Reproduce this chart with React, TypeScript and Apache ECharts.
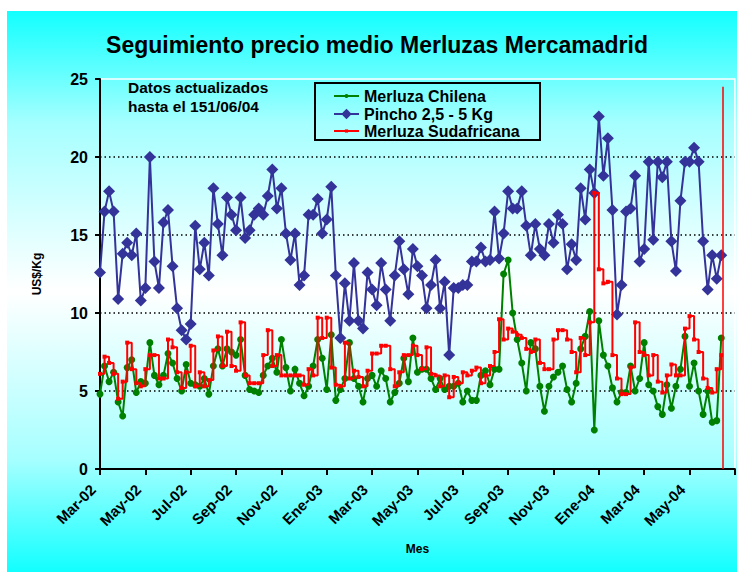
import React, { useEffect, useRef } from "react";
import * as echarts from "echarts";

const FONT = "'Liberation Sans', Arial, Helvetica, sans-serif";

// sampling step of the series (months after Mar-02)
const STEP_MONTHS = 0.2;

const tickLabels = [
  "Mar-02", "May-02", "Jul-02", "Sep-02", "Nov-02", "Ene-03", "Mar-03",
  "May-03", "Jul-03", "Sep-03", "Nov-03", "Ene-04", "Mar-04", "May-04", "",
];

const chilena = [
  4.8, 6.6, 5.6, 6.2, 4.3, 3.4, 6.5, 7.0, 4.9, 5.6, 5.5, 8.1, 6.0, 5.4, 6.0, 7.4, 6.8, 5.8, 5.0, 6.7, 5.5, 5.4, 5.3, 5.8,
  4.8, 6.6, 7.7, 6.6, 7.7, 7.5, 7.3, 8.3, 6.0, 5.1, 5.0, 4.9, 6.0, 6.6, 7.1, 6.2, 8.3, 6.5, 5.0, 6.4, 5.5, 4.7, 5.3, 6.6,
  8.3, 7.1, 5.1, 8.6, 4.4, 5.1, 5.8, 8.1, 5.8, 5.3, 4.3, 5.8, 6.0, 5.3, 6.3, 5.8, 4.3, 4.9, 5.5, 7.1, 5.6, 8.4, 6.2, 6.4, 6.4,
  5.8, 5.1, 5.8, 5.1, 5.3, 5.3, 5.5, 4.3, 5.0, 4.4, 4.4, 6.0, 6.3, 5.4, 6.4, 6.4, 12.5, 13.4, 10.0, 8.3, 6.8, 5.0, 8.1, 7.7,
  5.3, 3.7, 5.3, 5.9, 6.2, 6.6, 5.1, 4.3, 5.5, 7.7, 8.5, 10.1, 2.5, 9.5, 7.3, 6.6, 5.2, 4.3, 4.9, 4.9, 6.6, 5.0, 5.8, 8.1,
  5.4, 5.0, 4.0, 3.5, 5.4, 3.9, 5.3, 6.4, 8.5, 5.3, 6.8, 5.0, 3.5, 5.0, 3.0, 3.1, 8.4,
];

const pincho = [
  12.6, 16.5, 17.8, 16.5, 10.9, 13.8, 14.5, 13.7, 15.1, 10.8, 11.6, 20.0, 13.3, 11.6, 15.8, 16.6, 13.0, 10.3, 8.9, 8.3, 9.3, 15.6, 12.8, 14.5,
  12.4, 18.0, 15.7, 13.7, 17.4, 16.3, 15.3, 17.4, 14.8, 15.3, 16.3, 16.7, 16.3, 17.5, 19.2, 16.7, 18.0, 15.1, 13.4, 15.1, 11.8, 12.4, 16.3, 16.3,
  17.3, 15.1, 16.0, 18.1, 12.4, 8.4, 11.9, 9.5, 13.2, 9.5, 9.0, 12.6, 11.5, 10.5, 13.2, 11.5, 9.5, 12.4, 14.6, 12.8, 11.2, 14.1, 13.0, 12.4, 10.3,
  11.8, 13.4, 10.3, 12.0, 7.3, 11.6, 11.6, 11.8, 11.8, 13.3, 13.3, 14.2, 13.3, 13.4, 16.5, 13.5, 15.1, 17.8, 16.7, 16.7, 17.8, 15.6, 13.7, 15.7,
  14.1, 13.7, 15.7, 14.5, 16.3, 15.7, 12.8, 14.4, 13.4, 18.0, 16.0, 19.2, 17.7, 22.6, 18.8, 21.2, 16.6, 9.9, 11.8, 16.5, 16.7, 18.8, 13.3, 14.1,
  19.7, 14.7, 19.7, 18.7, 19.7, 14.6, 12.7, 17.2, 19.7, 19.7, 20.6, 19.7, 14.6, 11.5, 13.7, 12.2, 13.7,
];

const sudafricana = [
  6.1, 7.2, 6.8, 6.1, 4.5, 5.6, 8.1, 6.4, 5.5, 5.3, 6.4, 7.3, 7.3, 5.8, 5.8, 8.3, 7.8, 6.2, 5.2, 6.2, 7.9, 5.3, 6.2, 5.3,
  5.7, 7.6, 8.5, 6.6, 8.8, 6.6, 6.3, 9.4, 6.0, 5.5, 5.5, 5.5, 7.3, 8.9, 6.6, 7.3, 6.0, 6.0, 6.0, 6.0, 6.0, 5.4, 6.4, 6.0,
  9.7, 8.4, 9.7, 6.5, 5.4, 5.3, 8.1, 5.8, 6.3, 5.9, 5.3, 6.3, 7.4, 7.4, 7.9, 7.9, 6.4, 5.3, 6.2, 7.3, 7.3, 7.9, 7.3, 6.4, 7.8,
  6.1, 6.0, 5.3, 6.0, 4.6, 5.9, 5.5, 6.2, 6.0, 6.3, 6.5, 5.5, 6.0, 6.6, 7.5, 9.6, 8.3, 9.0, 8.8, 8.6, 8.4, 7.7, 7.5, 8.3,
  6.8, 6.4, 6.4, 8.3, 8.9, 8.9, 8.3, 7.5, 6.2, 8.4, 7.3, 9.4, 17.7, 12.8, 11.9, 12.0, 7.3, 5.8, 4.8, 4.8, 6.5, 9.4, 7.5, 7.3,
  6.0, 7.3, 5.6, 4.9, 6.0, 6.7, 6.0, 6.0, 9.0, 9.8, 8.3, 7.5, 5.8, 5.2, 4.9, 6.4, 7.3,
];

// red "last update" vertical line (month position, top value)
const updateMarkMonth = 27.47;
const updateMarkTop = 24.5;

const toPairs = (arr: number[]) =>
  arr.map((v, i) => [Math.round(i * STEP_MONTHS * 100) / 100, v]);

const legendText = { fontFamily: FONT, fontWeight: "bold", fontSize: 16, color: "#000" };

export default function App() {
  const ref = useRef<HTMLDivElement>(null);

  useEffect(() => {
    document.body.style.margin = "0";
    if (!ref.current) return;
    const chart = echarts.init(ref.current, null, { renderer: "svg" });

    const legendRow = (name: string, top: number, itemHeight: number) => ({
      orient: "horizontal",
      left: 326,
      top,
      padding: 0,
      itemWidth: 25,
      itemHeight,
      itemGap: 5,
      selectedMode: false,
      textStyle: legendText,
      data: [name],
    });

    chart.setOption({
      animation: false,
      backgroundColor: new echarts.graphic.LinearGradient(0, 0, 0, 1, [
        { offset: 0, color: "#12FFFF" },
        { offset: 0.2, color: "#A6FFFF" },
        { offset: 0.5, color: "#FFFFFF" },
        { offset: 0.8, color: "#A6FFFF" },
        { offset: 1, color: "#12FFFF" },
      ]),
      textStyle: { fontFamily: FONT },
      graphic: [
        {
          type: "text",
          x: 370,
          y: 34,
          z: 100,
          style: {
            text: "Seguimiento precio medio Merluzas Mercamadrid",
            fontFamily: FONT,
            fontWeight: "bold",
            fontSize: 23,
            fill: "#000",
            textAlign: "center",
            textVerticalAlign: "middle",
          },
        },
        {
          type: "text",
          x: 121,
          y: 86,
          z: 100,
          style: {
            text: "Datos actualizados\nhasta el 151/06/04",
            fontFamily: FONT,
            fontWeight: "bold",
            fontSize: 15.5,
            lineHeight: 19,
            fill: "#000",
            textAlign: "left",
            textVerticalAlign: "middle",
          },
        },
        {
          type: "rect",
          z: 100,
          shape: { x: 308, y: 72, width: 225, height: 57 },
          style: { fill: "none", stroke: "#000", lineWidth: 2 },
        },
      ],
      legend: [
        legendRow("Merluza Chilena", 77, 5),
        legendRow("Pincho 2,5 - 5 Kg", 95, 13),
        legendRow("Merluza Sudafricana", 112, 4),
      ],
      grid: {
        left: 93,
        top: 68,
        width: 635,
        height: 390,
        show: true,
        borderColor: "#FFFFFF",
        borderWidth: 1.5,
        backgroundColor: "transparent",
      },
      xAxis: {
        type: "value",
        min: 0,
        max: 28,
        interval: 2,
        name: "Mes",
        nameLocation: "middle",
        nameGap: 74,
        nameTextStyle: { fontFamily: FONT, fontWeight: "bold", fontSize: 12, color: "#000" },
        axisLine: { show: true, lineStyle: { color: "#000", width: 2 } },
        axisTick: { show: true, length: 6, lineStyle: { color: "#000", width: 2 } },
        splitLine: { show: false },
        axisLabel: {
          rotate: 45,
          margin: 11,
          padding: [0, 10, 0, 0],
          fontFamily: FONT,
          fontWeight: "bold",
          fontSize: 15,
          color: "#000",
          showMaxLabel: true,
          formatter: (v: number) => tickLabels[Math.round(v / 2)] ?? "",
        },
      },
      yAxis: {
        type: "value",
        min: 0,
        max: 25,
        interval: 5,
        name: "US$/Kg",
        nameLocation: "middle",
        nameGap: 57,
        nameTextStyle: { fontFamily: FONT, fontWeight: "bold", fontSize: 12, color: "#000" },
        axisLine: { show: true, lineStyle: { color: "#000", width: 2 } },
        axisTick: { show: true, length: 5, lineStyle: { color: "#000", width: 2 } },
        axisLabel: {
          margin: 12,
          fontFamily: FONT,
          fontWeight: "bold",
          fontSize: 16,
          color: "#000",
        },
        splitLine: {
          show: true,
          showMaxLine: false,
          lineStyle: { color: "#000", width: 1.5, type: [1.5, 3] },
        },
      },
      series: [
        {
          name: "Merluza Chilena",
          type: "line",
          data: toPairs(chilena),
          showAllSymbol: true,
          symbol: "circle",
          symbolSize: 7,
          itemStyle: { color: "#008000" },
          lineStyle: { color: "#008000", width: 2 },
          z: 2,
        },
        {
          name: "Pincho 2,5 - 5 Kg",
          type: "line",
          data: toPairs(pincho),
          showAllSymbol: true,
          symbol: "diamond",
          symbolSize: 12,
          itemStyle: { color: "#333399" },
          lineStyle: { color: "#333399", width: 2 },
          z: 3,
        },
        {
          name: "Merluza Sudafricana",
          type: "line",
          step: "end",
          data: toPairs(sudafricana),
          showAllSymbol: true,
          symbol: "rect",
          symbolSize: 4,
          itemStyle: { color: "#FF0000" },
          lineStyle: { color: "#FF0000", width: 2 },
          z: 4,
          markLine: {
            silent: true,
            symbol: "none",
            label: { show: false },
            lineStyle: { color: "#FF0000", width: 1.5, type: "solid" },
            data: [
              [
                { coord: [updateMarkMonth, 0] },
                { coord: [updateMarkMonth, updateMarkTop] },
              ],
            ],
          },
        },
      ],
    });

    return () => chart.dispose();
  }, []);

  return (
    <div
      ref={ref}
      style={{ position: "absolute", left: 7, top: 11, width: 730, height: 561 }}
    />
  );
}
